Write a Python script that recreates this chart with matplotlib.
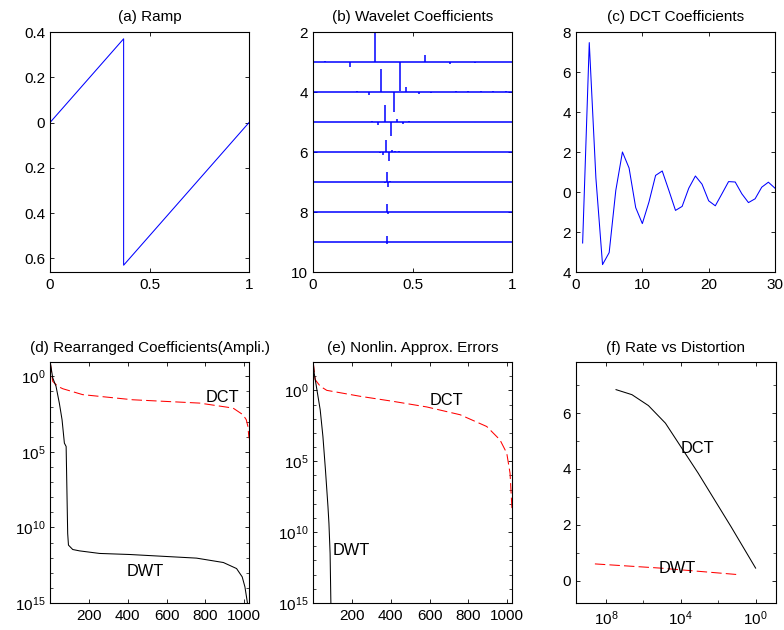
import numpy as np
import matplotlib
matplotlib.use("Agg")
import matplotlib.pyplot as plt
from matplotlib.ticker import FixedLocator, NullFormatter

plt.rcParams['font.family'] = ['Liberation Sans', 'DejaVu Sans']
plt.rcParams['mathtext.fontset'] = 'custom'
plt.rcParams['mathtext.rm'] = 'Liberation Sans'
plt.rcParams['mathtext.it'] = 'Liberation Sans:italic'
plt.rcParams['mathtext.bf'] = 'Liberation Sans:bold'

# (a) ramp signal: rises to the jump, drops, rises back to zero
ramp_t = [0.0, 0.37, 0.37, 1.0]
ramp_v = [0.0, 0.37, -0.63, 0.0]
ramp_yticks = [0.4, 0.2, 0.0, -0.2, -0.4, -0.6]
ramp_ylabels = ['0.4', '0.2', '0', '0.2', '0.4', '0.6']

# (b) wavelet coefficients per level: stick positions and heights (up = positive)
wav_levels = [3, 4, 5, 6, 7, 8, 9]
wav_pos = [
    [0.0625, 0.1875, 0.3125, 0.4375, 0.5625, 0.6875, 0.8125],
    [0.21875, 0.28125, 0.34375, 0.40625, 0.46875, 0.53125, 0.59375,
     0.71875, 0.78125, 0.84375, 0.90625, 0.96875],
    [0.296875, 0.328125, 0.359375, 0.390625, 0.421875, 0.453125, 0.484375],
    [0.3359, 0.3516, 0.3672, 0.3828, 0.3984, 0.4141, 0.4297],
    [0.3633, 0.3711, 0.3789, 0.3867],
    [0.3711, 0.3750],
    [0.3701, 0.3721],
]
wav_amp = [
    [0.05, -0.16, 1.05, -0.98, 0.24, -0.07, -0.02],
    [0.03, -0.10, 0.77, -0.65, 0.18, -0.055, -0.025,
     0.02, 0.02, 0.02, 0.02, 0.02],
    [0.03, -0.09, 0.56, -0.47, 0.11, -0.055, 0.03],
    [-0.04, -0.09, 0.39, -0.31, 0.08, 0.04, 0.02],
    [-0.04, 0.32, -0.16, 0.05],
    [0.28, -0.07],
    [0.21, -0.06],
]

# (c) first 30 DCT coefficients
dct_k = list(range(1, 31))
dct_c = [-2.55, 7.47, 0.7, -3.63, -3.03, 0.08, 2.0, 1.2, -0.78, -1.58,
         -0.5, 0.83, 1.05, 0.08, -0.92, -0.72, 0.19, 0.8, 0.39, -0.44,
         -0.69, -0.09, 0.52, 0.5, -0.09, -0.53, -0.34, 0.24, 0.49, 0.19]
dct_yticks = [8, 6, 4, 2, 0, -2, -4]
dct_ylabels = ['8', '6', '4', '2', '0', '2', '4']

# (d) sorted coefficient amplitudes (log10)
d_dwt_n = [1, 14, 31, 48, 62, 74, 83, 91, 95, 117, 152, 255, 410, 754, 892, 960, 989, 1003, 1016, 1024]
d_dwt_log = [0.95, -0.1, -0.66, -1.77, -2.87, -4.42, -4.64, -10.4, -11.17, -11.46, -11.55,
             -11.72, -11.79, -12.03, -12.32, -12.72, -13.27, -13.93, -15.0, -17.0]
d_dct_n = [1, 14, 40, 66, 168, 426, 770, 942, 993, 1010, 1018, 1024]
d_dct_log = [0.95, -0.33, -0.66, -0.82, -1.21, -1.55, -1.77, -2.1, -2.54, -2.87, -3.3, -4.1]

# (e) nonlinear approximation errors (log10)
e_dwt_n = [1, 6, 20, 37, 51, 64, 77, 82, 88, 92, 93]
e_dwt_log = [2.0, 1.23, 0.05, -1.37, -3.25, -5.6, -8.2, -9.38, -11.5, -15.0, -20.0]
e_dct_n = [1, 11, 37, 71, 243, 414, 585, 757, 894, 962, 997, 1014, 1024]
e_dct_log = [2.0, 0.76, 0.29, 0.0, -0.42, -0.78, -1.17, -1.72, -2.55, -3.49, -4.43, -5.85, -8.4]

log_ticks = [1e0, 1e-5, 1e-10, 1e-15]
log_labels = ['$10^{0}$', '$10^{5}$', '$10^{10}$', '$10^{15}$']

# (f) rate vs distortion (log10 distortion, bits)
f_dct_logd = [-7.46, -6.61, -5.73, -4.82, -3.95, -3.07, -2.2, -1.32, 0.0]
f_dct_rate = [6.84, 6.66, 6.27, 5.64, 4.75, 3.85, 2.9, 1.94, 0.45]
f_dwt_logd = [-8.59, -5.1, -0.82]
f_dwt_rate = [0.6, 0.45, 0.21]
f_xticks = [1e-8, 1e-4, 1e0]
f_xlabels = ['$10^{8}$', '$10^{4}$', '$10^{0}$']

blue = (0, 0, 1)
red = (1, 0, 0)
dash = (0, (10, 4))
lw = 0.75
tfs = 11
lfs = 11
txs = 11.8

fig = plt.figure(figsize=(7.84, 6.3), dpi=100)
W, H = 784.0, 630.0


def add_axes(left, top, right, bottom):
    return fig.add_axes([left / W, 1 - bottom / H, (right - left) / W, (bottom - top) / H])


def style(ax):
    ax.tick_params(which='major', direction='in', top=True, right=True,
                   length=3, width=0.6, labelsize=lfs)
    ax.tick_params(which='minor', direction='in', top=True, right=True,
                   length=2, width=0.5)
    ax.tick_params(axis='x', pad=4.5)
    ax.tick_params(axis='y', pad=3.5)
    for s in ax.spines.values():
        s.set_linewidth(0.8)


# (a)
ax = add_axes(50, 32, 249, 272)
ax.plot(ramp_t, ramp_v, color=blue, lw=lw)
ax.set_xlim(0, 1)
ax.set_ylim(-0.66, 0.4)
ax.set_xticks([0, 0.5, 1])
ax.set_xticklabels(['0', '0.5', '1'])
ax.set_yticks(ramp_yticks)
ax.set_yticklabels(ramp_ylabels)
ax.set_title('(a) Ramp', fontsize=tfs, pad=8)
style(ax)

# (b)
ax = add_axes(313, 32, 512, 272)
for lev, pos, amp in zip(wav_levels, wav_pos, wav_amp):
    ax.hlines(lev, 0, 1, color=blue, lw=1.1)
    ax.vlines(pos, lev, [lev - a for a in amp], color=blue, lw=1.1)
ax.set_xlim(0, 1)
ax.set_ylim(10, 2)
ax.set_xticks([0, 0.5, 1])
ax.set_xticklabels(['0', '0.5', '1'])
ax.set_yticks([2, 4, 6, 8, 10])
ax.set_title('(b) Wavelet Coefficients', fontsize=tfs, pad=8)
style(ax)

# (c)
ax = add_axes(576, 32, 775, 272)
ax.plot(dct_k, dct_c, color=blue, lw=lw)
ax.set_xlim(0, 30)
ax.set_ylim(-4, 8)
ax.set_xticks([0, 10, 20, 30])
ax.set_yticks(dct_yticks)
ax.set_yticklabels(dct_ylabels)
ax.set_title('(c) DCT Coefficients', fontsize=tfs, pad=8)
style(ax)


def log_panel(ax, top_exp):
    ax.set_yscale('log')
    ax.set_xlim(0, 1024)
    ax.set_ylim(1e-15, 10 ** top_exp)
    ax.set_xticks([200, 400, 600, 800, 1000])
    ax.yaxis.set_major_locator(FixedLocator(log_ticks))
    ax.set_yticklabels(log_labels)
    minors = [10.0 ** (-k) for k in range(-2, 16) if k % 5 != 0]
    ax.yaxis.set_minor_locator(FixedLocator(minors))
    ax.yaxis.set_minor_formatter(NullFormatter())
    style(ax)


# (d)
ax = add_axes(50, 362, 249, 603)
ax.plot(d_dct_n, 10.0 ** np.array(d_dct_log), color=red, lw=lw, ls=dash)
ax.plot(d_dwt_n, 10.0 ** np.array(d_dwt_log), color='k', lw=lw)
log_panel(ax, 0.95)
ax.text(885, 10 ** -1.41, 'DCT', fontsize=txs, ha='center', va='center')
ax.text(492, 10 ** -12.9, 'DWT', fontsize=txs, ha='center', va='center')
ax.set_title('(d) Rearranged Coefficients(Ampli.)', fontsize=tfs, pad=7)

# (e)
ax = add_axes(313, 362, 512, 603)
ax.plot(e_dct_n, 10.0 ** np.array(e_dct_log), color=red, lw=lw, ls=dash)
ax.plot(e_dwt_n, 10.0 ** np.array(e_dwt_log), color='k', lw=lw)
log_panel(ax, 2.0)
ax.text(686, 10 ** -0.73, 'DCT', fontsize=txs, ha='center', va='center')
ax.text(196, 10 ** -11.3, 'DWT', fontsize=txs, ha='center', va='center')
ax.set_title('(e) Nonlin. Approx. Errors', fontsize=tfs, pad=7)

# (f)
ax = add_axes(576, 362, 776, 603)
ax.plot(10.0 ** np.array(f_dct_logd), f_dct_rate, color='k', lw=lw)
ax.plot(10.0 ** np.array(f_dwt_logd), f_dwt_rate, color=red, lw=lw, ls=dash)
ax.set_xscale('log')
ax.set_xlim(10 ** -9.6, 10 ** 1.09)
ax.set_ylim(-0.8, 7.83)
ax.xaxis.set_major_locator(FixedLocator(f_xticks))
ax.set_xticklabels(f_xlabels)
ax.xaxis.set_minor_locator(FixedLocator([1e-6, 1e-2]))
ax.xaxis.set_minor_formatter(NullFormatter())
ax.set_yticks([0, 2, 4, 6])
ax.yaxis.set_minor_locator(FixedLocator([1, 3, 5, 7]))
ax.text(10 ** -3.09, 4.75, 'DCT', fontsize=txs, ha='center', va='center')
ax.text(10 ** -4.18, 0.45, 'DWT', fontsize=txs, ha='center', va='center')
ax.set_title('(f) Rate vs Distortion', fontsize=tfs, pad=7)
style(ax)

fig.savefig('out.png', dpi=100)
